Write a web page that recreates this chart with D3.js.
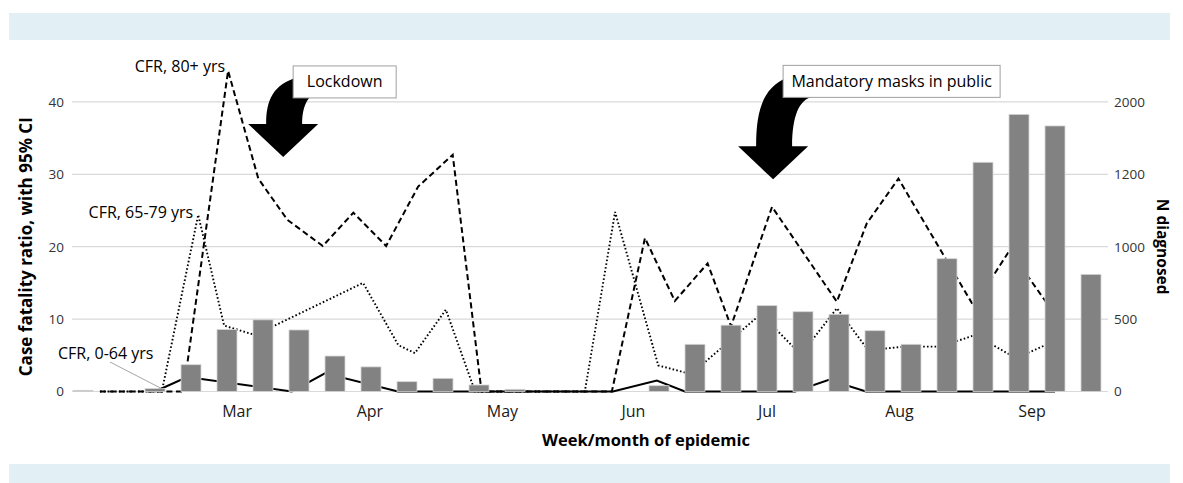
<!DOCTYPE html>
<html><head><meta charset="utf-8">
<script src="https://cdn.jsdelivr.net/npm/d3@7/dist/d3.min.js"></script>
<style>
body{margin:0;background:#fff}
svg{display:block}
text{font-family:"Open Sans",sans-serif}
</style>
</head><body>
<svg id="chart" width="1183" height="483"></svg>
<script>
// ---- data ----
const weeks = [1,2,3,4,5,6,7,8,9,10,11,12,13,14,15,16,17,18,19,20,21,22,23,24,25,26,27,28,29];
const nDiagnosed = [8,0,20,185,428,495,425,245,170,68,91,45,15,0,0,0,40,326,458,593,551,533,420,326,917,1583,1914,1834,809];

// CFR lines: position in week units (bar k is centred at k+0.5) and value (%)
const cfr80Week = [0.97,3.29,4.53,5.37,6.18,7.16,8.01,8.92,9.81,10.77,11.57,15.19,16.11,16.94,17.85,18.5,19.64,21.44,22.27,23.15,25.24,26.24,27.5];
const cfr80 =     [0,0,44.3,29.4,23.7,20.1,24.7,20.1,28.3,32.7,0,0,21.2,12.5,17.7,9.0,25.5,12.4,23.2,29.4,11.8,19.5,10.6];
const cfr65Week = [0.97,2.69,3.7,4.42,5.28,8.28,9.26,9.72,10.58,11.39,14.44,15.28,16.48,17.39,19.33,20.44,21.44,22.31,23.33,24.31,25.28,26.42,27.5];
const cfr65 =     [0,0,24.4,9.1,7.8,15.0,6.4,5.3,11.3,0,0,24.8,3.6,2.4,10.7,5.1,11.5,5.7,6.2,6.2,7.8,4.6,7.0];
const cfr0Week =  [2.5,3.39,6.3,7.22,9.25,15.22,16.44,17.22,20.28,21.22,22.25,27.5];
const cfr0 =      [0,2.0,0,2.5,0,0,1.5,0,0,1.6,0,0];

const leftTicks = [0,10,20,30,40];
const rightTickValues = [0,500,1000,1500,2000];
const rightTickLabels = ["0","500","1000","1200","2000"];
const months = ["Mar","Apr","May","Jun","Jul","Aug","Sep"];
const monthWeeks = [4.78,8.47,12.15,15.79,19.5,23.18,26.86];

// ---- layout ----
const svg = d3.select("#chart");
const L = 65, R = 1109, Y0 = 391.5, Y40 = 101.9;

const x = d3.scaleBand().domain(weeks).range([L,R]).paddingInner(16/36).paddingOuter(8/36);
const xw = d3.scaleLinear().domain([0,weeks.length]).range([L,R]);
const yL = d3.scaleLinear().domain([0,40]).range([Y0,Y40]);
const yR = d3.scaleLinear().domain([0,2000]).range([Y0,Y40]);

// bands
svg.append("rect").attr("x",9).attr("y",13).attr("width",1161).attr("height",27).attr("fill","#e2f0f5");
svg.append("rect").attr("x",9).attr("y",464).attr("width",1161).attr("height",19).attr("fill","#e2f0f5");

// gridlines
svg.append("g").selectAll("line").data(leftTicks).join("line")
  .attr("x1",L+7).attr("x2",R-1)
  .attr("y1",d=>yL(d)).attr("y2",d=>yL(d))
  .attr("stroke","#d9d9d9").attr("stroke-width",1.2);

// left tick labels
svg.append("g").selectAll("text").data(leftTicks).join("text")
  .attr("x",L-1).attr("y",d=>yL(d)).attr("dy","0.36em")
  .attr("text-anchor","end").attr("font-size",13.5).attr("fill","#333")
  .text(d=>d);

// right tick labels
svg.append("g").selectAll("text").data(rightTickValues).join("text")
  .attr("x",R+5).attr("y",d=>yR(d)).attr("dy","0.36em")
  .attr("text-anchor","start").attr("font-size",13.5).attr("fill","#333")
  .text((d,i)=>rightTickLabels[i]);

// month labels
svg.append("g").selectAll("text").data(months).join("text")
  .attr("x",(d,i)=>xw(monthWeeks[i])).attr("y",Y0+25.5)
  .attr("text-anchor","middle").attr("font-size",16).attr("fill","#1a1a1a")
  .text(d=>d);

// axis titles
svg.append("text").attr("transform",`translate(32,${(Y0+Y40)/2}) rotate(-90)`)
  .attr("text-anchor","middle").attr("font-size",17).attr("font-weight","bold").attr("fill","#000")
  .text("Case fatality ratio, with 95% CI");
svg.append("text").attr("transform",`translate(1157,${(Y0+Y40)/2}) rotate(90)`)
  .attr("text-anchor","middle").attr("font-size",15.5).attr("font-weight","bold").attr("fill","#000")
  .text("N diagnosed");
svg.append("text").attr("x",646).attr("y",446)
  .attr("text-anchor","middle").attr("font-size",16.5).attr("font-weight","bold").attr("fill","#000")
  .text("Week/month of epidemic");

// lines (behind bars)
const line = d3.line().x(d=>xw(d[0])).y(d=>yL(d[1]));
const g = svg.append("g").attr("fill","none").attr("stroke","#000");
g.append("path").datum(cfr65Week.map((w,i)=>[w,cfr65[i]])).attr("d",line)
  .attr("stroke-width",1.9).attr("stroke-dasharray","1.6,2.2");
g.append("path").datum(cfr0Week.map((w,i)=>[w,cfr0[i]])).attr("d",line)
  .attr("stroke-width",2);
g.append("path").datum(cfr80Week.map((w,i)=>[w,cfr80[i]])).attr("d",line)
  .attr("stroke-width",2).attr("stroke-dasharray","6,3.5");

// bars
svg.append("g").selectAll("rect").data(weeks).join("rect")
  .attr("x",d=>x(d)).attr("width",x.bandwidth())
  .attr("y",(d,i)=>yR(nDiagnosed[i])).attr("height",(d,i)=>Y0-yR(nDiagnosed[i]))
  .attr("fill","#828282").attr("stroke","#d6d6d6").attr("stroke-width",0.8);

// line labels
const lab = svg.append("g").attr("font-size",16).attr("fill","#000");
lab.append("text").attr("x",xw(cfr80Week[2])-3).attr("y",yL(cfr80[2])+1).attr("text-anchor","end").text("CFR, 80+ yrs");
lab.append("text").attr("x",xw(cfr65Week[2])-5).attr("y",yL(cfr65[2])+3).attr("text-anchor","end").text("CFR, 65-79 yrs");
lab.append("text").attr("x",58).attr("y",359).attr("text-anchor","start").text("CFR, 0-64 yrs");
svg.append("line").attr("x1",110).attr("y1",362).attr("x2",xw(cfr0Week[0])+8).attr("y2",yL(0.3))
  .attr("stroke","#a6a6a6").attr("stroke-width",1);

// annotation arrows + boxes
function arrow(tx, ty, h){
  const p = d3.path();
  p.moveTo(tx-17, ty-33);
  p.bezierCurveTo(tx-17, ty-33-h*0.55, tx-10, ty-33-h*0.9, tx+15, ty-33-h-3);
  p.lineTo(tx+40, ty-33-h-3);
  p.lineTo(tx+40, ty-33-h*0.75);
  p.bezierCurveTo(tx+26, ty-33-h*0.72, tx+19, ty-33-h*0.45, tx+19, ty-33);
  p.lineTo(tx+35, ty-33);
  p.lineTo(tx, ty);
  p.lineTo(tx-35, ty-33);
  p.closePath();
  svg.append("path").attr("d",p.toString()).attr("fill","#000");
}
function box(x0, y0, w, label){
  svg.append("rect").attr("x",x0).attr("y",y0).attr("width",w).attr("height",32)
    .attr("fill","#fff").attr("stroke","#a0a0a0").attr("stroke-width",1);
  svg.append("text").attr("x",x0+w/2).attr("y",y0+21.5).attr("text-anchor","middle")
    .attr("font-size",16).attr("fill","#000").text(label);
}
const lockX = xw(6.06), lockY = yL(32.4);
arrow(lockX, lockY, 44);
box(lockX+10, lockY-91, 103, "Lockdown");
const maskX = xw(19.67), maskY = yL(29.3);
arrow(maskX, maskY, 66);
box(maskX+10, maskY-114, 217, "Mandatory masks in public");
</script>
</body></html>
